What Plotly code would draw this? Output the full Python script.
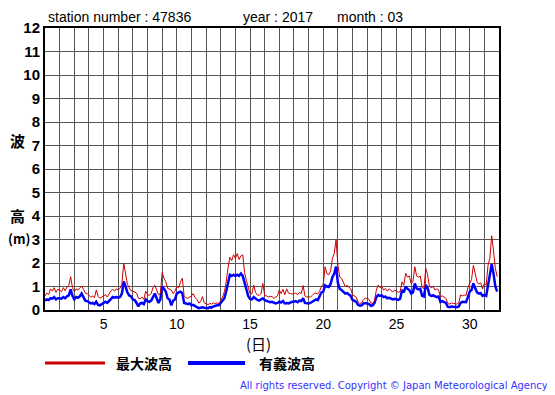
import plotly.graph_objects as go

# 3-hourly readings, 8 values per day, days 1..31 (March 2017)
max_wave = [
    0.60, 0.72, 0.65, 0.90, 0.80, 0.95, 0.75, 0.88,   # 1
    0.85, 0.78, 0.95, 0.82, 0.98, 1.05, 1.42, 0.95,   # 2
    0.78, 0.90, 0.85, 0.92, 1.02, 0.88, 0.72, 0.70,   # 3
    0.62, 0.55, 0.60, 0.52, 0.85, 0.58, 0.50, 0.55,   # 4
    0.60, 0.65, 0.55, 0.68, 0.82, 0.88, 0.80, 0.90,   # 5
    0.85, 0.92, 1.10, 2.00, 1.55, 1.10, 0.95, 0.82,   # 6
    0.80, 0.75, 0.72, 0.50, 0.48, 0.55, 0.45, 0.80,   # 7
    0.65, 0.62, 0.70, 0.95, 1.05, 0.85, 0.65, 0.70,   # 8
    1.60, 1.35, 1.20, 0.92, 0.90, 0.85, 0.70, 0.80,   # 9
    1.00, 0.95, 1.20, 1.35, 0.60, 0.52, 0.50, 0.55,   # 10
    0.60, 0.70, 0.52, 0.45, 0.30, 0.35, 0.57, 0.30,   # 11
    0.25, 0.22, 0.28, 0.25, 0.30, 0.28, 0.30, 0.28,   # 12
    0.40, 0.55, 0.78, 1.20, 1.80, 2.25, 2.10, 2.35,   # 13
    2.20, 2.40, 2.15, 2.30, 2.35, 1.60, 1.25, 0.95,   # 14
    0.70, 0.68, 1.06, 0.75, 0.64, 0.62, 0.70, 1.13,   # 15
    0.62, 0.60, 0.55, 0.58, 0.57, 0.50, 0.55, 0.60,   # 16
    0.85, 0.70, 0.88, 0.65, 0.90, 0.72, 0.70, 0.68,   # 17
    0.70, 0.72, 0.65, 0.75, 0.70, 1.04, 0.60, 0.55,   # 18
    0.57, 0.55, 0.62, 0.70, 0.72, 0.68, 0.80, 1.00,   # 19
    1.10, 1.84, 1.55, 1.50, 1.65, 2.20, 2.40, 3.00,   # 20
    1.90, 1.40, 1.35, 1.20, 1.00, 1.05, 0.95, 0.90,   # 21
    0.64, 0.60, 0.55, 0.35, 0.28, 0.30, 0.45, 0.50,   # 22
    0.50, 0.45, 0.30, 0.28, 0.40, 0.85, 1.06, 0.95,   # 23
    1.00, 0.85, 0.92, 0.80, 0.90, 0.82, 0.78, 0.85,   # 24
    0.80, 0.75, 0.78, 1.20, 1.05, 1.56, 1.40, 1.45,   # 25
    1.13, 1.20, 1.84, 1.45, 1.40, 1.45, 0.95, 0.92,   # 26
    1.77, 1.50, 1.00, 0.95, 1.00, 0.85, 0.90, 0.85,   # 27
    0.57, 0.60, 0.55, 0.50, 0.28, 0.25, 0.30, 0.28,   # 28
    0.28, 0.25, 0.30, 0.64, 0.60, 0.64, 0.62, 0.95,   # 29
    1.13, 1.30, 1.90, 1.50, 1.20, 1.10, 1.15, 0.90,   # 30
    1.13, 1.05, 1.90, 2.20, 3.16, 2.55, 1.77, 1.42,   # 31
]

sig_wave = [
    0.40, 0.45, 0.42, 0.50, 0.48, 0.55, 0.45, 0.50,   # 1
    0.50, 0.48, 0.55, 0.50, 0.58, 0.62, 0.88, 0.60,   # 2
    0.45, 0.55, 0.52, 0.58, 0.70, 0.55, 0.40, 0.38,   # 3
    0.32, 0.28, 0.30, 0.25, 0.35, 0.22, 0.20, 0.25,   # 4
    0.32, 0.35, 0.30, 0.38, 0.50, 0.55, 0.52, 0.55,   # 5
    0.52, 0.55, 0.70, 1.22, 1.00, 0.75, 0.62, 0.58,   # 6
    0.45, 0.42, 0.30, 0.15, 0.28, 0.30, 0.25, 0.45,   # 7
    0.38, 0.35, 0.40, 0.55, 0.70, 0.50, 0.30, 0.45,   # 8
    1.00, 0.90, 0.78, 0.50, 0.45, 0.20, 0.40, 0.45,   # 9
    0.70, 0.75, 0.78, 0.72, 0.30, 0.28, 0.25, 0.28,   # 10
    0.20, 0.22, 0.15, 0.12, 0.08, 0.10, 0.12, 0.10,   # 11
    0.10, 0.08, 0.12, 0.10, 0.15, 0.18, 0.20, 0.20,   # 12
    0.30, 0.38, 0.50, 0.80, 1.20, 1.50, 1.45, 1.50,   # 13
    1.45, 1.50, 1.45, 1.55, 1.45, 1.15, 0.80, 0.60,   # 14
    0.47, 0.45, 0.55, 0.48, 0.43, 0.40, 0.45, 0.50,   # 15
    0.42, 0.38, 0.35, 0.33, 0.35, 0.30, 0.28, 0.30,   # 16
    0.35, 0.32, 0.38, 0.28, 0.30, 0.28, 0.32, 0.35,   # 17
    0.35, 0.38, 0.33, 0.40, 0.38, 0.50, 0.30, 0.28,   # 18
    0.28, 0.30, 0.35, 0.43, 0.45, 0.42, 0.60, 0.75,   # 19
    0.78, 1.05, 1.00, 0.98, 1.10, 1.40, 1.55, 1.85,   # 20
    1.15, 0.90, 0.85, 0.78, 0.70, 0.72, 0.65, 0.60,   # 21
    0.43, 0.40, 0.35, 0.22, 0.18, 0.20, 0.28, 0.30,   # 22
    0.28, 0.25, 0.18, 0.20, 0.30, 0.55, 0.64, 0.60,   # 23
    0.62, 0.55, 0.57, 0.50, 0.52, 0.47, 0.45, 0.48,   # 24
    0.45, 0.43, 0.48, 0.85, 0.75, 1.00, 0.90, 0.85,   # 25
    0.70, 0.75, 1.13, 0.92, 0.88, 0.90, 0.60, 0.57,   # 26
    1.06, 0.95, 0.64, 0.60, 0.62, 0.57, 0.55, 0.57,   # 27
    0.35, 0.38, 0.33, 0.30, 0.14, 0.12, 0.15, 0.14,   # 28
    0.14, 0.12, 0.15, 0.30, 0.35, 0.35, 0.33, 0.55,   # 29
    0.78, 0.85, 1.13, 0.92, 0.75, 0.70, 0.72, 0.60,   # 30
    0.64, 0.60, 1.10, 1.45, 1.95, 1.55, 1.00, 0.78,   # 31
]

days = [1 + i / 8 for i in range(len(max_wave))]

x_ticks = list(range(1, 33))
x_tick_labels = [str(d) if d % 5 == 0 else "" for d in x_ticks]
y_ticks = list(range(0, 13))
y_tick_labels = [str(v) for v in y_ticks]

RED = "#cc0000"
BLUE = "#0000ff"

# page is 555x395; the browser body adds an 8px offset
OFF = 8
W, H = 555 - OFF, 395 - OFF
# plot area in page pixels
L, R, T, B = 45, 499, 28, 310


def px(x):
    return (x - L) / (R - L)


def py(y):
    return (B - y) / (B - T)


fig = go.Figure()
fig.add_trace(go.Scatter(x=days, y=sig_wave, mode="lines",
                         line=dict(color=BLUE, width=2.5), name="有義波高"))
fig.add_trace(go.Scatter(x=days, y=max_wave, mode="lines",
                         line=dict(color=RED, width=1), name="最大波高"))

fig.update_layout(
    width=W, height=H,
    margin=dict(l=L - OFF, r=W - (R - OFF), t=T - OFF, b=H - (B - OFF), pad=0),
    paper_bgcolor="white", plot_bgcolor="white",
    showlegend=False,
    font=dict(family="Liberation Sans, Arial, sans-serif", color="black"),
)
fig.update_xaxes(
    range=[1, 32], tickvals=x_ticks, ticktext=x_tick_labels,
    showgrid=True, gridcolor="#555555", gridwidth=1,
    showline=True, linecolor="black", linewidth=2, mirror=True,
    ticks="", tickfont=dict(size=14), zeroline=False,
)
fig.update_yaxes(
    range=[0, 12], tickvals=y_ticks, ticktext=y_tick_labels,
    showgrid=True, gridcolor="#555555", gridwidth=1,
    showline=True, linecolor="black", linewidth=2, mirror=True,
    ticks="", tickfont=dict(size=15, weight="bold"), zeroline=False,
)

ann = []


def text(x, y, s, size=14, color="black", anchor="left", weight="normal",
         family="Liberation Sans, Arial, sans-serif", yanchor="middle"):
    ann.append(dict(x=px(x), y=py(y), xref="paper", yref="paper", text=s,
                    showarrow=False, xanchor=anchor, yanchor=yanchor,
                    font=dict(size=size, color=color, family=family, weight=weight)))


text(46, 17, "station number : 47836", 14)
text(241, 17, "year : 2017", 14)
text(335, 17, "month : 03", 14)

cjk = "Noto Sans CJK JP, sans-serif"
text(17, 140, "波", 15, anchor="center", weight="bold", family=cjk)
text(17, 215, "高", 15, anchor="center", weight="bold", family=cjk)
text(19, 238, "(m)", 13, anchor="center", weight="bold", family=cjk)
text(258, 331, "(日)", 15, anchor="center", family=cjk, yanchor="top")

text(114, 363, "最大波高", 14, anchor="left", weight="bold", family=cjk)
text(257, 363, "有義波高", 14, anchor="left", weight="bold", family=cjk)

text(550, 385, "All rights reserved. Copyright © Japan Meteorological Agency",
     10, color="#3333ff", anchor="right",
     family="DejaVu Sans, sans-serif")

fig.update_layout(annotations=ann)

fig.add_shape(type="line", xref="paper", yref="paper",
              x0=px(45), x1=px(105), y0=py(363), y1=py(363),
              line=dict(color=RED, width=3))
fig.add_shape(type="line", xref="paper", yref="paper",
              x0=px(188), x1=px(245), y0=py(363), y1=py(363),
              line=dict(color=BLUE, width=4))

fig.write_html("out.html")
